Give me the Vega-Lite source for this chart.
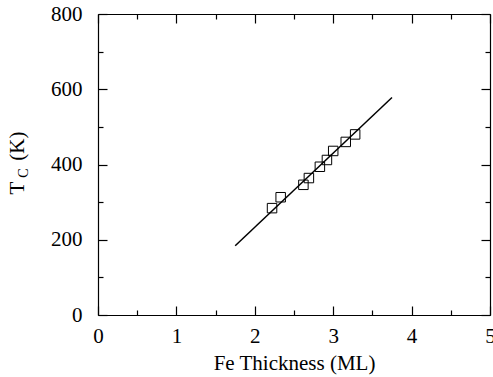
{
  "$schema": "https://vega.github.io/schema/vega-lite/v6.json",
  "width": 392,
  "height": 301,
  "autosize": "none",
  "padding": {"left": 98, "top": 14, "right": 3, "bottom": 62},
  "background": "white",
  "config": {
    "view": {"stroke": null},
    "axis": {
      "grid": false,
      "domainColor": "black",
      "tickColor": "black",
      "labelColor": "black",
      "titleColor": "black",
      "labelFont": "Liberation Serif",
      "titleFont": "Liberation Serif",
      "labelFontSize": 21,
      "titleFontSize": 21,
      "titleFontWeight": "normal",
      "domainWidth": 1.2,
      "tickWidth": 1.2
    }
  },
  "datasets": {
    "fit": [{"x": 1.75, "y": 184}, {"x": 3.75, "y": 578}],
    "pts": [
      {"x": 2.22, "y": 284},
      {"x": 2.33, "y": 313},
      {"x": 2.62, "y": 346},
      {"x": 2.69, "y": 364},
      {"x": 2.83, "y": 394},
      {"x": 2.92, "y": 412},
      {"x": 3.00, "y": 436},
      {"x": 3.16, "y": 460},
      {"x": 3.28, "y": 480}
    ]
  },
  "resolve": {"axis": {"x": "independent", "y": "independent"}},
  "layer": [
    {
      "data": {"name": "fit"},
      "mark": {"type": "line", "color": "black", "strokeWidth": 1.5},
      "encoding": {
        "x": {"field": "x", "type": "quantitative", "scale": {"domain": [0, 5], "nice": false},
          "axis": {"orient": "bottom", "values": [0, 1, 2, 3, 4, 5], "tickSize": -9, "labelPadding": 19, "title": "Fe Thickness (ML)", "titlePadding": 6, "labelFlush": false, "labelOverlap": false}},
        "y": {"field": "y", "type": "quantitative", "scale": {"domain": [0, 800], "nice": false},
          "axis": {"orient": "left", "values": [0, 200, 400, 600, 800], "tickSize": -9, "labelPadding": 25, "title": "T\u00a0\u00a0\u00a0\u00a0(K)", "titleX": -75, "titleY": 148.5, "titleAngle": -90, "titleAlign": "center", "titleBaseline": "alphabetic", "labelFlush": false, "labelOverlap": false}}
      }
    },
    {
      "data": {"name": "pts"},
      "mark": {"type": "point", "shape": "square", "size": 90, "filled": false, "stroke": "black", "strokeWidth": 1, "opacity": 1},
      "encoding": {
        "x": {"field": "x", "type": "quantitative",
          "axis": {"orient": "bottom", "values": [0.5, 1.5, 2.5, 3.5, 4.5], "tickSize": -5, "labels": false, "domain": false, "title": null}},
        "y": {"field": "y", "type": "quantitative",
          "axis": {"orient": "left", "values": [100, 300, 500, 700], "tickSize": -5, "labels": false, "domain": false, "title": "C", "titleFontSize": 14, "titleX": -71, "titleY": 158.5, "titleAngle": -90, "titleAlign": "center", "titleBaseline": "alphabetic"}}
      }
    },
    {
      "data": {"name": "pts"},
      "mark": {"type": "point", "opacity": 0},
      "encoding": {
        "x": {"field": "x", "type": "quantitative",
          "axis": {"orient": "top", "values": [0, 1, 2, 3, 4, 5], "tickSize": -9, "labels": false, "title": null}},
        "y": {"field": "y", "type": "quantitative",
          "axis": {"orient": "right", "values": [0, 200, 400, 600, 800], "tickSize": -9, "labels": false, "title": null}}
      }
    },
    {
      "data": {"name": "pts"},
      "mark": {"type": "point", "opacity": 0},
      "encoding": {
        "x": {"field": "x", "type": "quantitative",
          "axis": {"orient": "top", "values": [0.5, 1.5, 2.5, 3.5, 4.5], "tickSize": -5, "labels": false, "domain": false, "title": null}},
        "y": {"field": "y", "type": "quantitative",
          "axis": {"orient": "right", "values": [100, 300, 500, 700], "tickSize": -5, "labels": false, "domain": false, "title": null}}
      }
    }
  ]
}
